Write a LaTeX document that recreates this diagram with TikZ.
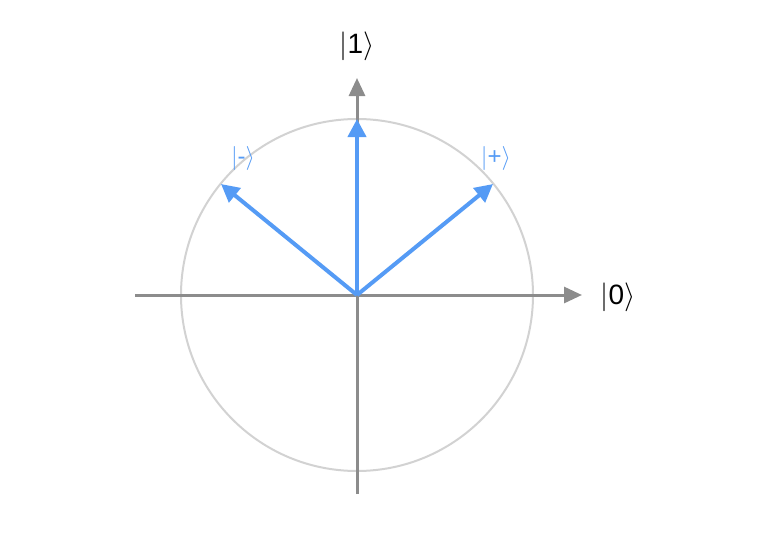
\documentclass[tikz,border=0pt]{standalone}
\usepackage{fontspec}
\setmainfont{Liberation Sans}
\usetikzlibrary{arrows.meta}
\definecolor{axisgray}{RGB}{140,140,140}
\definecolor{circgray}{RGB}{210,210,210}
\definecolor{ketblue}{RGB}{85,155,245}
\tikzset{
  axis/.style={draw=axisgray, line width=1.5pt, -{Triangle[length=9pt,width=8pt]}},
  vec/.style={draw=ketblue, line width=2pt, -{Triangle[length=9pt,width=9pt]}},
  ket/.style={font=\fontsize{14}{16}\selectfont, inner sep=1pt},
  bket/.style={ket, text=ketblue, font=\fontsize{12}{14}\selectfont}
}
\newcommand{\ketof}[1]{$|$#1$\rangle$}
\begin{document}
\begin{tikzpicture}[x=0.5pt, y=-0.5pt]
\useasboundingbox (0,0) rectangle (768,536);
\coordinate (o) at (357,295);
\draw[circgray, line width=1pt] (o) circle[radius=88pt];
% axes
\coordinate (xl) at (135,295);
\coordinate (xr) at (582,295);
\coordinate (yb) at (357,494);
\coordinate (yt) at (357,78);
\draw[axis] (xl) -- (xr);
\draw[axis] (yb) -- (yt);
\node[ket] (one) at (357,46) {\ketof{1}};
\node[ket] (zero) at (618,297) {\ketof{0}};
% states
\coordinate (up) at (357,119);
\coordinate (plus) at (493,184);
\coordinate (minus) at (221,184);
\draw[vec] (o) -- (up);
\draw[vec] (o) -- (plus);
\draw[vec] (o) -- (minus);
\node[bket] (lplus) at (496,158) {\ketof{+}};
\node[bket] (lminus) at (243,158) {\ketof{-}};
\end{tikzpicture}
\end{document}
